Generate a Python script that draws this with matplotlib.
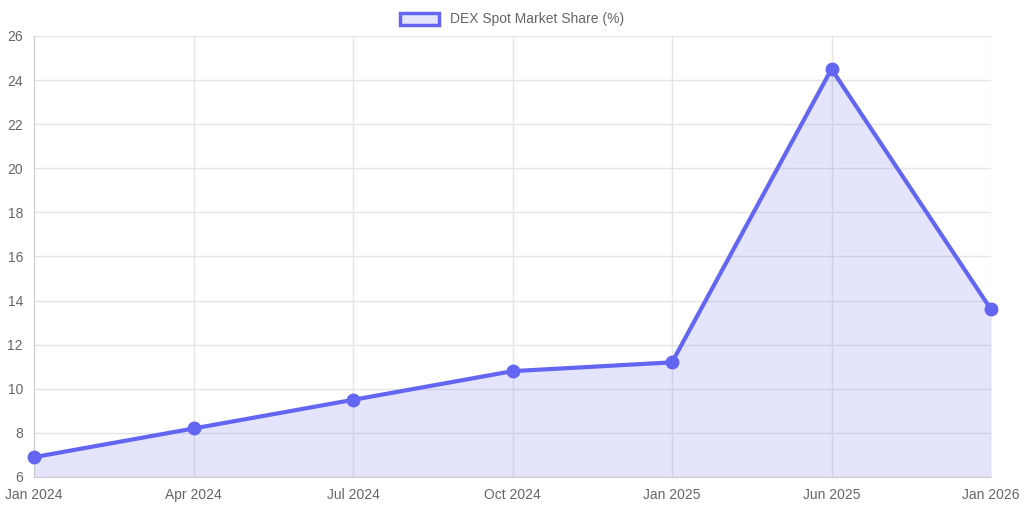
import matplotlib

matplotlib.use("Agg")

import matplotlib.pyplot as plt
from matplotlib.patches import Patch

labels = ["Jan 2024", "Apr 2024", "Jul 2024", "Oct 2024", "Jan 2025", "Jun 2025", "Jan 2026"]
share = [6.9, 8.2, 9.5, 10.8, 11.2, 24.5, 13.6]

line_color = "#6366f1"
plt.rcParams["font.family"] = ["Liberation Sans", "DejaVu Sans"]

fig = plt.figure(figsize=(10.24, 5.12), dpi=100)
ax = fig.add_axes([34 / 1024, 1 - 477 / 512, (991 - 34) / 1024, (477 - 36) / 512])

x = list(range(len(labels)))
ax.fill_between(x, share, 6, color=line_color, alpha=0.17, linewidth=0)
ax.plot(x, share, color=line_color, linewidth=3, marker="o", markersize=9, clip_on=False, zorder=3)

ax.set_xlim(0, len(labels) - 1)
ax.set_ylim(6, 26)
ax.set_yticks(range(6, 27, 2))
ax.set_xticks(x)
ax.set_xticklabels(labels)
ax.grid(True, color="#e5e5e5", linewidth=1)
ax.set_axisbelow(True)
for side in ["top", "right"]:
    ax.spines[side].set_visible(False)
for side in ["left", "bottom"]:
    ax.spines[side].set_color("#cccccc")
ax.tick_params(colors="#666666", labelsize=10, length=0, pad=8)

handle = Patch(facecolor=(0.39, 0.4, 0.95, 0.17), edgecolor=line_color, linewidth=2.5)
fig.legend([handle], ["DEX Spot Market Share (%)"], loc="upper center", bbox_to_anchor=(0.5, 1.0),
           frameon=False, fontsize=10, labelcolor="#666666", handlelength=2.8, handleheight=1.0)

fig.savefig("out.png", dpi=100)
